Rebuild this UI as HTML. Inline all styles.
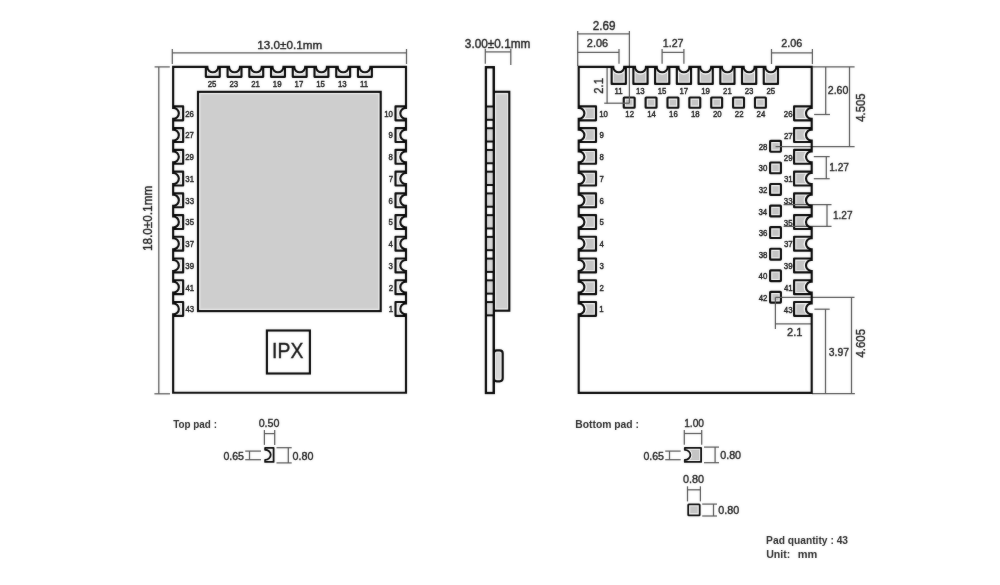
<!DOCTYPE html>
<html><head><meta charset="utf-8"><title>Module dimensions</title>
<style>
html,body{margin:0;padding:0;background:#fff;}
body{width:1000px;height:585px;overflow:hidden;}
svg{display:block;font-family:"Liberation Sans",sans-serif;}
</style></head><body>
<svg width="1000" height="585" viewBox="0 0 1000 585">
<rect width="1000" height="585" fill="#fff"/>
<defs><filter id="soft" x="0" y="0" width="1000" height="585" filterUnits="userSpaceOnUse" color-interpolation-filters="sRGB"><feGaussianBlur in="SourceGraphic" stdDeviation="0.8" result="b"/><feComposite in="SourceGraphic" in2="b" operator="arithmetic" k1="0" k2="0.74" k3="0.26" k4="0"/></filter></defs>
<g filter="url(#soft)">
<rect x="198.00" y="91.85" width="182.70" height="219.25" fill="#f6f6f6" stroke="#060606" stroke-width="2.15" rx="0"/>
<rect x="200.38" y="94.22" width="177.95" height="214.50" fill="#cecece"/>
<g transform="translate(212.80 66.85) rotate(0)"><path d="M-6.95,0 V10.00 H6.95 V0" fill="#fff" stroke="#060606" stroke-width="2.15" stroke-linejoin="round"/><path d="M-4.73,7.78 V6.03 A7.72 7.62 0 0 0 4.73,6.03 V7.78 Z" fill="#d4d4d4"/><path d="M-5.50,-2.2 V0 A5.5 5.4 0 0 0 5.50,0 V-2.2 Z" fill="#fff"/></g>
<g transform="translate(234.53 66.85) rotate(0)"><path d="M-6.95,0 V10.00 H6.95 V0" fill="#fff" stroke="#060606" stroke-width="2.15" stroke-linejoin="round"/><path d="M-4.73,7.78 V6.03 A7.72 7.62 0 0 0 4.73,6.03 V7.78 Z" fill="#d4d4d4"/><path d="M-5.50,-2.2 V0 A5.5 5.4 0 0 0 5.50,0 V-2.2 Z" fill="#fff"/></g>
<g transform="translate(256.26 66.85) rotate(0)"><path d="M-6.95,0 V10.00 H6.95 V0" fill="#fff" stroke="#060606" stroke-width="2.15" stroke-linejoin="round"/><path d="M-4.73,7.78 V6.03 A7.72 7.62 0 0 0 4.73,6.03 V7.78 Z" fill="#d4d4d4"/><path d="M-5.50,-2.2 V0 A5.5 5.4 0 0 0 5.50,0 V-2.2 Z" fill="#fff"/></g>
<g transform="translate(277.99 66.85) rotate(0)"><path d="M-6.95,0 V10.00 H6.95 V0" fill="#fff" stroke="#060606" stroke-width="2.15" stroke-linejoin="round"/><path d="M-4.73,7.78 V6.03 A7.72 7.62 0 0 0 4.73,6.03 V7.78 Z" fill="#d4d4d4"/><path d="M-5.50,-2.2 V0 A5.5 5.4 0 0 0 5.50,0 V-2.2 Z" fill="#fff"/></g>
<g transform="translate(299.72 66.85) rotate(0)"><path d="M-6.95,0 V10.00 H6.95 V0" fill="#fff" stroke="#060606" stroke-width="2.15" stroke-linejoin="round"/><path d="M-4.73,7.78 V6.03 A7.72 7.62 0 0 0 4.73,6.03 V7.78 Z" fill="#d4d4d4"/><path d="M-5.50,-2.2 V0 A5.5 5.4 0 0 0 5.50,0 V-2.2 Z" fill="#fff"/></g>
<g transform="translate(321.45 66.85) rotate(0)"><path d="M-6.95,0 V10.00 H6.95 V0" fill="#fff" stroke="#060606" stroke-width="2.15" stroke-linejoin="round"/><path d="M-4.73,7.78 V6.03 A7.72 7.62 0 0 0 4.73,6.03 V7.78 Z" fill="#d4d4d4"/><path d="M-5.50,-2.2 V0 A5.5 5.4 0 0 0 5.50,0 V-2.2 Z" fill="#fff"/></g>
<g transform="translate(343.18 66.85) rotate(0)"><path d="M-6.95,0 V10.00 H6.95 V0" fill="#fff" stroke="#060606" stroke-width="2.15" stroke-linejoin="round"/><path d="M-4.73,7.78 V6.03 A7.72 7.62 0 0 0 4.73,6.03 V7.78 Z" fill="#d4d4d4"/><path d="M-5.50,-2.2 V0 A5.5 5.4 0 0 0 5.50,0 V-2.2 Z" fill="#fff"/></g>
<g transform="translate(364.91 66.85) rotate(0)"><path d="M-6.95,0 V10.00 H6.95 V0" fill="#fff" stroke="#060606" stroke-width="2.15" stroke-linejoin="round"/><path d="M-4.73,7.78 V6.03 A7.72 7.62 0 0 0 4.73,6.03 V7.78 Z" fill="#d4d4d4"/><path d="M-5.50,-2.2 V0 A5.5 5.4 0 0 0 5.50,0 V-2.2 Z" fill="#fff"/></g>
<g transform="translate(173.15 113.35) rotate(-90)"><path d="M-6.95,0 V10.00 H6.95 V0" fill="#fff" stroke="#060606" stroke-width="2.15" stroke-linejoin="round"/><path d="M-4.73,7.78 V6.27 A7.72 7.92 0 0 0 4.73,6.27 V7.78 Z" fill="#d4d4d4"/><path d="M-5.50,-2.2 V0 A5.5 5.7 0 0 0 5.50,0 V-2.2 Z" fill="#fff"/></g>
<g transform="translate(406.00 113.35) rotate(90)"><path d="M-6.95,0 V10.50 H6.95 V0" fill="#fff" stroke="#060606" stroke-width="2.15" stroke-linejoin="round"/><path d="M-4.73,8.28 V6.27 A7.72 7.92 0 0 0 4.73,6.27 V8.28 Z" fill="#d4d4d4"/><path d="M-5.50,-2.2 V0 A5.5 5.7 0 0 0 5.50,0 V-2.2 Z" fill="#fff"/></g>
<g transform="translate(173.15 135.08) rotate(-90)"><path d="M-6.95,0 V10.00 H6.95 V0" fill="#fff" stroke="#060606" stroke-width="2.15" stroke-linejoin="round"/><path d="M-4.73,7.78 V6.27 A7.72 7.92 0 0 0 4.73,6.27 V7.78 Z" fill="#d4d4d4"/><path d="M-5.50,-2.2 V0 A5.5 5.7 0 0 0 5.50,0 V-2.2 Z" fill="#fff"/></g>
<g transform="translate(406.00 135.08) rotate(90)"><path d="M-6.95,0 V10.50 H6.95 V0" fill="#fff" stroke="#060606" stroke-width="2.15" stroke-linejoin="round"/><path d="M-4.73,8.28 V6.27 A7.72 7.92 0 0 0 4.73,6.27 V8.28 Z" fill="#d4d4d4"/><path d="M-5.50,-2.2 V0 A5.5 5.7 0 0 0 5.50,0 V-2.2 Z" fill="#fff"/></g>
<g transform="translate(173.15 156.81) rotate(-90)"><path d="M-6.95,0 V10.00 H6.95 V0" fill="#fff" stroke="#060606" stroke-width="2.15" stroke-linejoin="round"/><path d="M-4.73,7.78 V6.27 A7.72 7.92 0 0 0 4.73,6.27 V7.78 Z" fill="#d4d4d4"/><path d="M-5.50,-2.2 V0 A5.5 5.7 0 0 0 5.50,0 V-2.2 Z" fill="#fff"/></g>
<g transform="translate(406.00 156.81) rotate(90)"><path d="M-6.95,0 V10.50 H6.95 V0" fill="#fff" stroke="#060606" stroke-width="2.15" stroke-linejoin="round"/><path d="M-4.73,8.28 V6.27 A7.72 7.92 0 0 0 4.73,6.27 V8.28 Z" fill="#d4d4d4"/><path d="M-5.50,-2.2 V0 A5.5 5.7 0 0 0 5.50,0 V-2.2 Z" fill="#fff"/></g>
<g transform="translate(173.15 178.54) rotate(-90)"><path d="M-6.95,0 V10.00 H6.95 V0" fill="#fff" stroke="#060606" stroke-width="2.15" stroke-linejoin="round"/><path d="M-4.73,7.78 V6.27 A7.72 7.92 0 0 0 4.73,6.27 V7.78 Z" fill="#d4d4d4"/><path d="M-5.50,-2.2 V0 A5.5 5.7 0 0 0 5.50,0 V-2.2 Z" fill="#fff"/></g>
<g transform="translate(406.00 178.54) rotate(90)"><path d="M-6.95,0 V10.50 H6.95 V0" fill="#fff" stroke="#060606" stroke-width="2.15" stroke-linejoin="round"/><path d="M-4.73,8.28 V6.27 A7.72 7.92 0 0 0 4.73,6.27 V8.28 Z" fill="#d4d4d4"/><path d="M-5.50,-2.2 V0 A5.5 5.7 0 0 0 5.50,0 V-2.2 Z" fill="#fff"/></g>
<g transform="translate(173.15 200.27) rotate(-90)"><path d="M-6.95,0 V10.00 H6.95 V0" fill="#fff" stroke="#060606" stroke-width="2.15" stroke-linejoin="round"/><path d="M-4.73,7.78 V6.27 A7.72 7.92 0 0 0 4.73,6.27 V7.78 Z" fill="#d4d4d4"/><path d="M-5.50,-2.2 V0 A5.5 5.7 0 0 0 5.50,0 V-2.2 Z" fill="#fff"/></g>
<g transform="translate(406.00 200.27) rotate(90)"><path d="M-6.95,0 V10.50 H6.95 V0" fill="#fff" stroke="#060606" stroke-width="2.15" stroke-linejoin="round"/><path d="M-4.73,8.28 V6.27 A7.72 7.92 0 0 0 4.73,6.27 V8.28 Z" fill="#d4d4d4"/><path d="M-5.50,-2.2 V0 A5.5 5.7 0 0 0 5.50,0 V-2.2 Z" fill="#fff"/></g>
<g transform="translate(173.15 222.00) rotate(-90)"><path d="M-6.95,0 V10.00 H6.95 V0" fill="#fff" stroke="#060606" stroke-width="2.15" stroke-linejoin="round"/><path d="M-4.73,7.78 V6.27 A7.72 7.92 0 0 0 4.73,6.27 V7.78 Z" fill="#d4d4d4"/><path d="M-5.50,-2.2 V0 A5.5 5.7 0 0 0 5.50,0 V-2.2 Z" fill="#fff"/></g>
<g transform="translate(406.00 222.00) rotate(90)"><path d="M-6.95,0 V10.50 H6.95 V0" fill="#fff" stroke="#060606" stroke-width="2.15" stroke-linejoin="round"/><path d="M-4.73,8.28 V6.27 A7.72 7.92 0 0 0 4.73,6.27 V8.28 Z" fill="#d4d4d4"/><path d="M-5.50,-2.2 V0 A5.5 5.7 0 0 0 5.50,0 V-2.2 Z" fill="#fff"/></g>
<g transform="translate(173.15 243.73) rotate(-90)"><path d="M-6.95,0 V10.00 H6.95 V0" fill="#fff" stroke="#060606" stroke-width="2.15" stroke-linejoin="round"/><path d="M-4.73,7.78 V6.27 A7.72 7.92 0 0 0 4.73,6.27 V7.78 Z" fill="#d4d4d4"/><path d="M-5.50,-2.2 V0 A5.5 5.7 0 0 0 5.50,0 V-2.2 Z" fill="#fff"/></g>
<g transform="translate(406.00 243.73) rotate(90)"><path d="M-6.95,0 V10.50 H6.95 V0" fill="#fff" stroke="#060606" stroke-width="2.15" stroke-linejoin="round"/><path d="M-4.73,8.28 V6.27 A7.72 7.92 0 0 0 4.73,6.27 V8.28 Z" fill="#d4d4d4"/><path d="M-5.50,-2.2 V0 A5.5 5.7 0 0 0 5.50,0 V-2.2 Z" fill="#fff"/></g>
<g transform="translate(173.15 265.46) rotate(-90)"><path d="M-6.95,0 V10.00 H6.95 V0" fill="#fff" stroke="#060606" stroke-width="2.15" stroke-linejoin="round"/><path d="M-4.73,7.78 V6.27 A7.72 7.92 0 0 0 4.73,6.27 V7.78 Z" fill="#d4d4d4"/><path d="M-5.50,-2.2 V0 A5.5 5.7 0 0 0 5.50,0 V-2.2 Z" fill="#fff"/></g>
<g transform="translate(406.00 265.46) rotate(90)"><path d="M-6.95,0 V10.50 H6.95 V0" fill="#fff" stroke="#060606" stroke-width="2.15" stroke-linejoin="round"/><path d="M-4.73,8.28 V6.27 A7.72 7.92 0 0 0 4.73,6.27 V8.28 Z" fill="#d4d4d4"/><path d="M-5.50,-2.2 V0 A5.5 5.7 0 0 0 5.50,0 V-2.2 Z" fill="#fff"/></g>
<g transform="translate(173.15 287.19) rotate(-90)"><path d="M-6.95,0 V10.00 H6.95 V0" fill="#fff" stroke="#060606" stroke-width="2.15" stroke-linejoin="round"/><path d="M-4.73,7.78 V6.27 A7.72 7.92 0 0 0 4.73,6.27 V7.78 Z" fill="#d4d4d4"/><path d="M-5.50,-2.2 V0 A5.5 5.7 0 0 0 5.50,0 V-2.2 Z" fill="#fff"/></g>
<g transform="translate(406.00 287.19) rotate(90)"><path d="M-6.95,0 V10.50 H6.95 V0" fill="#fff" stroke="#060606" stroke-width="2.15" stroke-linejoin="round"/><path d="M-4.73,8.28 V6.27 A7.72 7.92 0 0 0 4.73,6.27 V8.28 Z" fill="#d4d4d4"/><path d="M-5.50,-2.2 V0 A5.5 5.7 0 0 0 5.50,0 V-2.2 Z" fill="#fff"/></g>
<g transform="translate(173.15 308.92) rotate(-90)"><path d="M-6.95,0 V10.00 H6.95 V0" fill="#fff" stroke="#060606" stroke-width="2.15" stroke-linejoin="round"/><path d="M-4.73,7.78 V6.27 A7.72 7.92 0 0 0 4.73,6.27 V7.78 Z" fill="#d4d4d4"/><path d="M-5.50,-2.2 V0 A5.5 5.7 0 0 0 5.50,0 V-2.2 Z" fill="#fff"/></g>
<g transform="translate(406.00 308.92) rotate(90)"><path d="M-6.95,0 V10.50 H6.95 V0" fill="#fff" stroke="#060606" stroke-width="2.15" stroke-linejoin="round"/><path d="M-4.73,8.28 V6.27 A7.72 7.92 0 0 0 4.73,6.27 V8.28 Z" fill="#d4d4d4"/><path d="M-5.50,-2.2 V0 A5.5 5.7 0 0 0 5.50,0 V-2.2 Z" fill="#fff"/></g>
<text transform="translate(207.72 87.00) scale(0.9000 1)" font-size="8.7" fill="#161616" font-weight="normal" stroke="#161616" stroke-width="0.42">25</text>
<text transform="translate(229.45 87.00) scale(0.9000 1)" font-size="8.7" fill="#161616" font-weight="normal" stroke="#161616" stroke-width="0.42">23</text>
<text transform="translate(251.20 87.00) scale(0.9000 1)" font-size="8.7" fill="#161616" font-weight="normal" stroke="#161616" stroke-width="0.42">21</text>
<text transform="translate(272.83 87.00) scale(0.9000 1)" font-size="8.7" fill="#161616" font-weight="normal" stroke="#161616" stroke-width="0.42">19</text>
<text transform="translate(294.58 87.00) scale(0.9000 1)" font-size="8.7" fill="#161616" font-weight="normal" stroke="#161616" stroke-width="0.42">17</text>
<text transform="translate(316.27 87.00) scale(0.9000 1)" font-size="8.7" fill="#161616" font-weight="normal" stroke="#161616" stroke-width="0.42">15</text>
<text transform="translate(338.01 87.00) scale(0.9000 1)" font-size="8.7" fill="#161616" font-weight="normal" stroke="#161616" stroke-width="0.42">13</text>
<text transform="translate(360.04 87.00) scale(0.9000 1)" font-size="8.7" fill="#161616" font-weight="normal" stroke="#161616" stroke-width="0.42">11</text>
<text transform="translate(185.21 116.75) scale(0.9000 1)" font-size="8.7" fill="#161616" font-weight="normal" stroke="#161616" stroke-width="0.42">26</text>
<text transform="translate(185.21 138.48) scale(0.9000 1)" font-size="8.7" fill="#161616" font-weight="normal" stroke="#161616" stroke-width="0.42">27</text>
<text transform="translate(185.21 160.21) scale(0.9000 1)" font-size="8.7" fill="#161616" font-weight="normal" stroke="#161616" stroke-width="0.42">29</text>
<text transform="translate(185.31 181.94) scale(0.9000 1)" font-size="8.7" fill="#161616" font-weight="normal" stroke="#161616" stroke-width="0.42">31</text>
<text transform="translate(185.31 203.67) scale(0.9000 1)" font-size="8.7" fill="#161616" font-weight="normal" stroke="#161616" stroke-width="0.42">33</text>
<text transform="translate(185.31 225.40) scale(0.9000 1)" font-size="8.7" fill="#161616" font-weight="normal" stroke="#161616" stroke-width="0.42">35</text>
<text transform="translate(185.31 247.13) scale(0.9000 1)" font-size="8.7" fill="#161616" font-weight="normal" stroke="#161616" stroke-width="0.42">37</text>
<text transform="translate(185.31 268.86) scale(0.9000 1)" font-size="8.7" fill="#161616" font-weight="normal" stroke="#161616" stroke-width="0.42">39</text>
<text transform="translate(185.42 290.59) scale(0.9000 1)" font-size="8.7" fill="#161616" font-weight="normal" stroke="#161616" stroke-width="0.42">41</text>
<text transform="translate(185.42 312.32) scale(0.9000 1)" font-size="8.7" fill="#161616" font-weight="normal" stroke="#161616" stroke-width="0.42">43</text>
<text transform="translate(384.20 116.75) scale(0.9000 1)" font-size="8.7" fill="#161616" font-weight="normal" stroke="#161616" stroke-width="0.42">10</text>
<text transform="translate(388.61 138.48) scale(0.9000 1)" font-size="8.7" fill="#161616" font-weight="normal" stroke="#161616" stroke-width="0.42">9</text>
<text transform="translate(388.59 160.21) scale(0.9000 1)" font-size="8.7" fill="#161616" font-weight="normal" stroke="#161616" stroke-width="0.42">8</text>
<text transform="translate(388.65 181.94) scale(0.9000 1)" font-size="8.7" fill="#161616" font-weight="normal" stroke="#161616" stroke-width="0.42">7</text>
<text transform="translate(388.59 203.67) scale(0.9000 1)" font-size="8.7" fill="#161616" font-weight="normal" stroke="#161616" stroke-width="0.42">6</text>
<text transform="translate(388.57 225.40) scale(0.9000 1)" font-size="8.7" fill="#161616" font-weight="normal" stroke="#161616" stroke-width="0.42">5</text>
<text transform="translate(388.47 247.13) scale(0.9000 1)" font-size="8.7" fill="#161616" font-weight="normal" stroke="#161616" stroke-width="0.42">4</text>
<text transform="translate(388.59 268.86) scale(0.9000 1)" font-size="8.7" fill="#161616" font-weight="normal" stroke="#161616" stroke-width="0.42">3</text>
<text transform="translate(388.65 290.59) scale(0.9000 1)" font-size="8.7" fill="#161616" font-weight="normal" stroke="#161616" stroke-width="0.42">2</text>
<text transform="translate(388.63 312.32) scale(0.9000 1)" font-size="8.7" fill="#161616" font-weight="normal" stroke="#161616" stroke-width="0.42">1</text>
<rect x="266.90" y="330.50" width="43.00" height="43.00" fill="none" stroke="#060606" stroke-width="2.15" rx="0"/>
<text transform="translate(272.11 357.80) scale(0.9135 1)" font-size="21.2" fill="#141414" font-weight="normal" stroke="#141414" stroke-width="0.4">IPX</text>
<line x1="172.30" y1="52.80" x2="406.50" y2="52.80" stroke="#555555" stroke-width="1.25"/>
<line x1="172.30" y1="49.00" x2="172.30" y2="64.00" stroke="#555555" stroke-width="1.25"/>
<line x1="406.50" y1="49.00" x2="406.50" y2="64.00" stroke="#555555" stroke-width="1.25"/>
<text transform="translate(257.32 49.30) scale(0.9900 1)" font-size="11.8" fill="#1a1a1a" font-weight="normal" stroke="#1a1a1a" stroke-width="0.38">13.0±0.1mm</text>
<line x1="158.80" y1="66.90" x2="158.80" y2="393.80" stroke="#555555" stroke-width="1.25"/>
<line x1="154.60" y1="66.90" x2="169.80" y2="66.90" stroke="#555555" stroke-width="1.25"/>
<line x1="154.40" y1="393.80" x2="170.00" y2="393.80" stroke="#555555" stroke-width="1.25"/>
<text transform="translate(152.00 251.08) rotate(-90) scale(0.9910 1)" font-size="11.9" fill="#1a1a1a" font-weight="normal" stroke="#1a1a1a" stroke-width="0.38">18.0±0.1mm</text>
<rect x="493.80" y="91.80" width="15.50" height="218.90" fill="#f4f4f4" stroke="#060606" stroke-width="2.15" rx="0"/>
<rect x="496.20" y="94.3" width="10.90" height="213.90" fill="#cecece"/>
<rect x="493.80" y="350.30" width="8.90" height="31.00" fill="#f4f4f4" stroke="#060606" stroke-width="2.15" rx="3"/>
<rect x="496.00" y="352.8" width="4.50" height="26" fill="#d6d6d6" rx="1"/>
<rect x="485.95" y="67.20" width="7.85" height="325.80" fill="#fff" stroke="#060606" stroke-width="2.15" rx="0"/>
<rect x="485.95" y="106.50" width="7.85" height="13.30" fill="#d9d9d9"/>
<line x1="485.95" y1="106.50" x2="493.80" y2="106.50" stroke="#060606" stroke-width="2.0"/>
<line x1="485.95" y1="119.80" x2="493.80" y2="119.80" stroke="#060606" stroke-width="2.0"/>
<rect x="485.95" y="128.23" width="7.85" height="13.30" fill="#d9d9d9"/>
<line x1="485.95" y1="128.23" x2="493.80" y2="128.23" stroke="#060606" stroke-width="2.0"/>
<line x1="485.95" y1="141.53" x2="493.80" y2="141.53" stroke="#060606" stroke-width="2.0"/>
<rect x="485.95" y="149.96" width="7.85" height="13.30" fill="#d9d9d9"/>
<line x1="485.95" y1="149.96" x2="493.80" y2="149.96" stroke="#060606" stroke-width="2.0"/>
<line x1="485.95" y1="163.26" x2="493.80" y2="163.26" stroke="#060606" stroke-width="2.0"/>
<rect x="485.95" y="171.69" width="7.85" height="13.30" fill="#d9d9d9"/>
<line x1="485.95" y1="171.69" x2="493.80" y2="171.69" stroke="#060606" stroke-width="2.0"/>
<line x1="485.95" y1="184.99" x2="493.80" y2="184.99" stroke="#060606" stroke-width="2.0"/>
<rect x="485.95" y="193.42" width="7.85" height="13.30" fill="#d9d9d9"/>
<line x1="485.95" y1="193.42" x2="493.80" y2="193.42" stroke="#060606" stroke-width="2.0"/>
<line x1="485.95" y1="206.72" x2="493.80" y2="206.72" stroke="#060606" stroke-width="2.0"/>
<rect x="485.95" y="215.15" width="7.85" height="13.30" fill="#d9d9d9"/>
<line x1="485.95" y1="215.15" x2="493.80" y2="215.15" stroke="#060606" stroke-width="2.0"/>
<line x1="485.95" y1="228.45" x2="493.80" y2="228.45" stroke="#060606" stroke-width="2.0"/>
<rect x="485.95" y="236.88" width="7.85" height="13.30" fill="#d9d9d9"/>
<line x1="485.95" y1="236.88" x2="493.80" y2="236.88" stroke="#060606" stroke-width="2.0"/>
<line x1="485.95" y1="250.18" x2="493.80" y2="250.18" stroke="#060606" stroke-width="2.0"/>
<rect x="485.95" y="258.61" width="7.85" height="13.30" fill="#d9d9d9"/>
<line x1="485.95" y1="258.61" x2="493.80" y2="258.61" stroke="#060606" stroke-width="2.0"/>
<line x1="485.95" y1="271.91" x2="493.80" y2="271.91" stroke="#060606" stroke-width="2.0"/>
<rect x="485.95" y="280.34" width="7.85" height="13.30" fill="#d9d9d9"/>
<line x1="485.95" y1="280.34" x2="493.80" y2="280.34" stroke="#060606" stroke-width="2.0"/>
<line x1="485.95" y1="293.64" x2="493.80" y2="293.64" stroke="#060606" stroke-width="2.0"/>
<rect x="485.95" y="302.07" width="7.85" height="13.30" fill="#d9d9d9"/>
<line x1="485.95" y1="302.07" x2="493.80" y2="302.07" stroke="#060606" stroke-width="2.0"/>
<line x1="485.95" y1="315.37" x2="493.80" y2="315.37" stroke="#060606" stroke-width="2.0"/>
<rect x="485.95" y="67.20" width="7.85" height="325.80" fill="none" stroke="#060606" stroke-width="2.15" rx="0"/>
<line x1="485.30" y1="51.90" x2="510.80" y2="51.90" stroke="#555555" stroke-width="1.25"/>
<line x1="485.30" y1="48.80" x2="485.30" y2="63.70" stroke="#555555" stroke-width="1.25"/>
<line x1="510.80" y1="48.80" x2="510.80" y2="65.00" stroke="#555555" stroke-width="1.25"/>
<text transform="translate(464.86 47.60) scale(0.9919 1)" font-size="11.9" fill="#1a1a1a" font-weight="normal" stroke="#1a1a1a" stroke-width="0.38">3.00±0.1mm</text>
<g transform="translate(618.75 66.90) rotate(0)"><path d="M-7.10,0 V17.00 H7.10 V0" fill="#fff" stroke="#060606" stroke-width="2.15" stroke-linejoin="round"/><path d="M-4.88,14.78 V5.91 A7.72 7.62 0 0 0 4.88,5.91 V14.78 Z" fill="#c4c4c4"/><path d="M-5.50,-2.2 V0 A5.5 5.4 0 0 0 5.50,0 V-2.2 Z" fill="#fff"/></g>
<g transform="translate(640.48 66.90) rotate(0)"><path d="M-7.10,0 V17.00 H7.10 V0" fill="#fff" stroke="#060606" stroke-width="2.15" stroke-linejoin="round"/><path d="M-4.88,14.78 V5.91 A7.72 7.62 0 0 0 4.88,5.91 V14.78 Z" fill="#c4c4c4"/><path d="M-5.50,-2.2 V0 A5.5 5.4 0 0 0 5.50,0 V-2.2 Z" fill="#fff"/></g>
<g transform="translate(662.21 66.90) rotate(0)"><path d="M-7.10,0 V17.00 H7.10 V0" fill="#fff" stroke="#060606" stroke-width="2.15" stroke-linejoin="round"/><path d="M-4.88,14.78 V5.91 A7.72 7.62 0 0 0 4.88,5.91 V14.78 Z" fill="#c4c4c4"/><path d="M-5.50,-2.2 V0 A5.5 5.4 0 0 0 5.50,0 V-2.2 Z" fill="#fff"/></g>
<g transform="translate(683.94 66.90) rotate(0)"><path d="M-7.10,0 V17.00 H7.10 V0" fill="#fff" stroke="#060606" stroke-width="2.15" stroke-linejoin="round"/><path d="M-4.88,14.78 V5.91 A7.72 7.62 0 0 0 4.88,5.91 V14.78 Z" fill="#c4c4c4"/><path d="M-5.50,-2.2 V0 A5.5 5.4 0 0 0 5.50,0 V-2.2 Z" fill="#fff"/></g>
<g transform="translate(705.67 66.90) rotate(0)"><path d="M-7.10,0 V17.00 H7.10 V0" fill="#fff" stroke="#060606" stroke-width="2.15" stroke-linejoin="round"/><path d="M-4.88,14.78 V5.91 A7.72 7.62 0 0 0 4.88,5.91 V14.78 Z" fill="#c4c4c4"/><path d="M-5.50,-2.2 V0 A5.5 5.4 0 0 0 5.50,0 V-2.2 Z" fill="#fff"/></g>
<g transform="translate(727.40 66.90) rotate(0)"><path d="M-7.10,0 V17.00 H7.10 V0" fill="#fff" stroke="#060606" stroke-width="2.15" stroke-linejoin="round"/><path d="M-4.88,14.78 V5.91 A7.72 7.62 0 0 0 4.88,5.91 V14.78 Z" fill="#c4c4c4"/><path d="M-5.50,-2.2 V0 A5.5 5.4 0 0 0 5.50,0 V-2.2 Z" fill="#fff"/></g>
<g transform="translate(749.13 66.90) rotate(0)"><path d="M-7.10,0 V17.00 H7.10 V0" fill="#fff" stroke="#060606" stroke-width="2.15" stroke-linejoin="round"/><path d="M-4.88,14.78 V5.91 A7.72 7.62 0 0 0 4.88,5.91 V14.78 Z" fill="#c4c4c4"/><path d="M-5.50,-2.2 V0 A5.5 5.4 0 0 0 5.50,0 V-2.2 Z" fill="#fff"/></g>
<g transform="translate(770.86 66.90) rotate(0)"><path d="M-7.10,0 V17.00 H7.10 V0" fill="#fff" stroke="#060606" stroke-width="2.15" stroke-linejoin="round"/><path d="M-4.88,14.78 V5.91 A7.72 7.62 0 0 0 4.88,5.91 V14.78 Z" fill="#c4c4c4"/><path d="M-5.50,-2.2 V0 A5.5 5.4 0 0 0 5.50,0 V-2.2 Z" fill="#fff"/></g>
<g transform="translate(578.70 113.35) rotate(-90)"><path d="M-6.95,0 V17.30 H6.95 V0" fill="#fff" stroke="#060606" stroke-width="2.15" stroke-linejoin="round"/><path d="M-4.73,15.08 V6.27 A7.72 7.92 0 0 0 4.73,6.27 V15.08 Z" fill="#c4c4c4"/><path d="M-5.50,-2.2 V0 A5.5 5.7 0 0 0 5.50,0 V-2.2 Z" fill="#fff"/></g>
<g transform="translate(811.70 113.35) rotate(90)"><path d="M-6.95,0 V17.60 H6.95 V0" fill="#fff" stroke="#060606" stroke-width="2.15" stroke-linejoin="round"/><path d="M-4.73,15.38 V6.27 A7.72 7.92 0 0 0 4.73,6.27 V15.38 Z" fill="#c4c4c4"/><path d="M-5.50,-2.2 V0 A5.5 5.7 0 0 0 5.50,0 V-2.2 Z" fill="#fff"/></g>
<g transform="translate(578.70 135.08) rotate(-90)"><path d="M-6.95,0 V17.30 H6.95 V0" fill="#fff" stroke="#060606" stroke-width="2.15" stroke-linejoin="round"/><path d="M-4.73,15.08 V6.27 A7.72 7.92 0 0 0 4.73,6.27 V15.08 Z" fill="#c4c4c4"/><path d="M-5.50,-2.2 V0 A5.5 5.7 0 0 0 5.50,0 V-2.2 Z" fill="#fff"/></g>
<g transform="translate(811.70 135.08) rotate(90)"><path d="M-6.95,0 V17.60 H6.95 V0" fill="#fff" stroke="#060606" stroke-width="2.15" stroke-linejoin="round"/><path d="M-4.73,15.38 V6.27 A7.72 7.92 0 0 0 4.73,6.27 V15.38 Z" fill="#c4c4c4"/><path d="M-5.50,-2.2 V0 A5.5 5.7 0 0 0 5.50,0 V-2.2 Z" fill="#fff"/></g>
<g transform="translate(578.70 156.81) rotate(-90)"><path d="M-6.95,0 V17.30 H6.95 V0" fill="#fff" stroke="#060606" stroke-width="2.15" stroke-linejoin="round"/><path d="M-4.73,15.08 V6.27 A7.72 7.92 0 0 0 4.73,6.27 V15.08 Z" fill="#c4c4c4"/><path d="M-5.50,-2.2 V0 A5.5 5.7 0 0 0 5.50,0 V-2.2 Z" fill="#fff"/></g>
<g transform="translate(811.70 156.81) rotate(90)"><path d="M-6.95,0 V17.60 H6.95 V0" fill="#fff" stroke="#060606" stroke-width="2.15" stroke-linejoin="round"/><path d="M-4.73,15.38 V6.27 A7.72 7.92 0 0 0 4.73,6.27 V15.38 Z" fill="#c4c4c4"/><path d="M-5.50,-2.2 V0 A5.5 5.7 0 0 0 5.50,0 V-2.2 Z" fill="#fff"/></g>
<g transform="translate(578.70 178.54) rotate(-90)"><path d="M-6.95,0 V17.30 H6.95 V0" fill="#fff" stroke="#060606" stroke-width="2.15" stroke-linejoin="round"/><path d="M-4.73,15.08 V6.27 A7.72 7.92 0 0 0 4.73,6.27 V15.08 Z" fill="#c4c4c4"/><path d="M-5.50,-2.2 V0 A5.5 5.7 0 0 0 5.50,0 V-2.2 Z" fill="#fff"/></g>
<g transform="translate(811.70 178.54) rotate(90)"><path d="M-6.95,0 V17.60 H6.95 V0" fill="#fff" stroke="#060606" stroke-width="2.15" stroke-linejoin="round"/><path d="M-4.73,15.38 V6.27 A7.72 7.92 0 0 0 4.73,6.27 V15.38 Z" fill="#c4c4c4"/><path d="M-5.50,-2.2 V0 A5.5 5.7 0 0 0 5.50,0 V-2.2 Z" fill="#fff"/></g>
<g transform="translate(578.70 200.27) rotate(-90)"><path d="M-6.95,0 V17.30 H6.95 V0" fill="#fff" stroke="#060606" stroke-width="2.15" stroke-linejoin="round"/><path d="M-4.73,15.08 V6.27 A7.72 7.92 0 0 0 4.73,6.27 V15.08 Z" fill="#c4c4c4"/><path d="M-5.50,-2.2 V0 A5.5 5.7 0 0 0 5.50,0 V-2.2 Z" fill="#fff"/></g>
<g transform="translate(811.70 200.27) rotate(90)"><path d="M-6.95,0 V17.60 H6.95 V0" fill="#fff" stroke="#060606" stroke-width="2.15" stroke-linejoin="round"/><path d="M-4.73,15.38 V6.27 A7.72 7.92 0 0 0 4.73,6.27 V15.38 Z" fill="#c4c4c4"/><path d="M-5.50,-2.2 V0 A5.5 5.7 0 0 0 5.50,0 V-2.2 Z" fill="#fff"/></g>
<g transform="translate(578.70 222.00) rotate(-90)"><path d="M-6.95,0 V17.30 H6.95 V0" fill="#fff" stroke="#060606" stroke-width="2.15" stroke-linejoin="round"/><path d="M-4.73,15.08 V6.27 A7.72 7.92 0 0 0 4.73,6.27 V15.08 Z" fill="#c4c4c4"/><path d="M-5.50,-2.2 V0 A5.5 5.7 0 0 0 5.50,0 V-2.2 Z" fill="#fff"/></g>
<g transform="translate(811.70 222.00) rotate(90)"><path d="M-6.95,0 V17.60 H6.95 V0" fill="#fff" stroke="#060606" stroke-width="2.15" stroke-linejoin="round"/><path d="M-4.73,15.38 V6.27 A7.72 7.92 0 0 0 4.73,6.27 V15.38 Z" fill="#c4c4c4"/><path d="M-5.50,-2.2 V0 A5.5 5.7 0 0 0 5.50,0 V-2.2 Z" fill="#fff"/></g>
<g transform="translate(578.70 243.73) rotate(-90)"><path d="M-6.95,0 V17.30 H6.95 V0" fill="#fff" stroke="#060606" stroke-width="2.15" stroke-linejoin="round"/><path d="M-4.73,15.08 V6.27 A7.72 7.92 0 0 0 4.73,6.27 V15.08 Z" fill="#c4c4c4"/><path d="M-5.50,-2.2 V0 A5.5 5.7 0 0 0 5.50,0 V-2.2 Z" fill="#fff"/></g>
<g transform="translate(811.70 243.73) rotate(90)"><path d="M-6.95,0 V17.60 H6.95 V0" fill="#fff" stroke="#060606" stroke-width="2.15" stroke-linejoin="round"/><path d="M-4.73,15.38 V6.27 A7.72 7.92 0 0 0 4.73,6.27 V15.38 Z" fill="#c4c4c4"/><path d="M-5.50,-2.2 V0 A5.5 5.7 0 0 0 5.50,0 V-2.2 Z" fill="#fff"/></g>
<g transform="translate(578.70 265.46) rotate(-90)"><path d="M-6.95,0 V17.30 H6.95 V0" fill="#fff" stroke="#060606" stroke-width="2.15" stroke-linejoin="round"/><path d="M-4.73,15.08 V6.27 A7.72 7.92 0 0 0 4.73,6.27 V15.08 Z" fill="#c4c4c4"/><path d="M-5.50,-2.2 V0 A5.5 5.7 0 0 0 5.50,0 V-2.2 Z" fill="#fff"/></g>
<g transform="translate(811.70 265.46) rotate(90)"><path d="M-6.95,0 V17.60 H6.95 V0" fill="#fff" stroke="#060606" stroke-width="2.15" stroke-linejoin="round"/><path d="M-4.73,15.38 V6.27 A7.72 7.92 0 0 0 4.73,6.27 V15.38 Z" fill="#c4c4c4"/><path d="M-5.50,-2.2 V0 A5.5 5.7 0 0 0 5.50,0 V-2.2 Z" fill="#fff"/></g>
<g transform="translate(578.70 287.19) rotate(-90)"><path d="M-6.95,0 V17.30 H6.95 V0" fill="#fff" stroke="#060606" stroke-width="2.15" stroke-linejoin="round"/><path d="M-4.73,15.08 V6.27 A7.72 7.92 0 0 0 4.73,6.27 V15.08 Z" fill="#c4c4c4"/><path d="M-5.50,-2.2 V0 A5.5 5.7 0 0 0 5.50,0 V-2.2 Z" fill="#fff"/></g>
<g transform="translate(811.70 287.19) rotate(90)"><path d="M-6.95,0 V17.60 H6.95 V0" fill="#fff" stroke="#060606" stroke-width="2.15" stroke-linejoin="round"/><path d="M-4.73,15.38 V6.27 A7.72 7.92 0 0 0 4.73,6.27 V15.38 Z" fill="#c4c4c4"/><path d="M-5.50,-2.2 V0 A5.5 5.7 0 0 0 5.50,0 V-2.2 Z" fill="#fff"/></g>
<g transform="translate(578.70 308.92) rotate(-90)"><path d="M-6.95,0 V17.30 H6.95 V0" fill="#fff" stroke="#060606" stroke-width="2.15" stroke-linejoin="round"/><path d="M-4.73,15.08 V6.27 A7.72 7.92 0 0 0 4.73,6.27 V15.08 Z" fill="#c4c4c4"/><path d="M-5.50,-2.2 V0 A5.5 5.7 0 0 0 5.50,0 V-2.2 Z" fill="#fff"/></g>
<g transform="translate(811.70 308.92) rotate(90)"><path d="M-6.95,0 V17.60 H6.95 V0" fill="#fff" stroke="#060606" stroke-width="2.15" stroke-linejoin="round"/><path d="M-4.73,15.38 V6.27 A7.72 7.92 0 0 0 4.73,6.27 V15.38 Z" fill="#c4c4c4"/><path d="M-5.50,-2.2 V0 A5.5 5.7 0 0 0 5.50,0 V-2.2 Z" fill="#fff"/></g>
<rect x="623.75" y="97.45" width="10.90" height="10.30" fill="#fff" stroke="#060606" stroke-width="2.15" stroke-linejoin="round" rx="0.6"/>
<rect x="625.98" y="99.67" width="6.45" height="5.85" fill="#c4c4c4"/>
<rect x="645.62" y="97.45" width="10.90" height="10.30" fill="#fff" stroke="#060606" stroke-width="2.15" stroke-linejoin="round" rx="0.6"/>
<rect x="647.85" y="99.67" width="6.45" height="5.85" fill="#c4c4c4"/>
<rect x="667.49" y="97.45" width="10.90" height="10.30" fill="#fff" stroke="#060606" stroke-width="2.15" stroke-linejoin="round" rx="0.6"/>
<rect x="669.72" y="99.67" width="6.45" height="5.85" fill="#c4c4c4"/>
<rect x="689.36" y="97.45" width="10.90" height="10.30" fill="#fff" stroke="#060606" stroke-width="2.15" stroke-linejoin="round" rx="0.6"/>
<rect x="691.59" y="99.67" width="6.45" height="5.85" fill="#c4c4c4"/>
<rect x="711.23" y="97.45" width="10.90" height="10.30" fill="#fff" stroke="#060606" stroke-width="2.15" stroke-linejoin="round" rx="0.6"/>
<rect x="713.46" y="99.67" width="6.45" height="5.85" fill="#c4c4c4"/>
<rect x="733.10" y="97.45" width="10.90" height="10.30" fill="#fff" stroke="#060606" stroke-width="2.15" stroke-linejoin="round" rx="0.6"/>
<rect x="735.33" y="99.67" width="6.45" height="5.85" fill="#c4c4c4"/>
<rect x="754.97" y="97.45" width="10.90" height="10.30" fill="#fff" stroke="#060606" stroke-width="2.15" stroke-linejoin="round" rx="0.6"/>
<rect x="757.20" y="99.67" width="6.45" height="5.85" fill="#c4c4c4"/>
<rect x="770.10" y="140.90" width="10.80" height="10.80" fill="#fff" stroke="#060606" stroke-width="2.15" stroke-linejoin="round" rx="0.6"/>
<rect x="772.33" y="143.12" width="6.35" height="6.35" fill="#c4c4c4"/>
<rect x="770.10" y="162.47" width="10.80" height="10.80" fill="#fff" stroke="#060606" stroke-width="2.15" stroke-linejoin="round" rx="0.6"/>
<rect x="772.33" y="164.69" width="6.35" height="6.35" fill="#c4c4c4"/>
<rect x="770.10" y="184.04" width="10.80" height="10.80" fill="#fff" stroke="#060606" stroke-width="2.15" stroke-linejoin="round" rx="0.6"/>
<rect x="772.33" y="186.27" width="6.35" height="6.35" fill="#c4c4c4"/>
<rect x="770.10" y="205.61" width="10.80" height="10.80" fill="#fff" stroke="#060606" stroke-width="2.15" stroke-linejoin="round" rx="0.6"/>
<rect x="772.33" y="207.84" width="6.35" height="6.35" fill="#c4c4c4"/>
<rect x="770.10" y="227.18" width="10.80" height="10.80" fill="#fff" stroke="#060606" stroke-width="2.15" stroke-linejoin="round" rx="0.6"/>
<rect x="772.33" y="229.41" width="6.35" height="6.35" fill="#c4c4c4"/>
<rect x="770.10" y="248.75" width="10.80" height="10.80" fill="#fff" stroke="#060606" stroke-width="2.15" stroke-linejoin="round" rx="0.6"/>
<rect x="772.33" y="250.97" width="6.35" height="6.35" fill="#c4c4c4"/>
<rect x="770.10" y="270.32" width="10.80" height="10.80" fill="#fff" stroke="#060606" stroke-width="2.15" stroke-linejoin="round" rx="0.6"/>
<rect x="772.33" y="272.55" width="6.35" height="6.35" fill="#c4c4c4"/>
<rect x="770.10" y="291.89" width="10.80" height="10.80" fill="#fff" stroke="#060606" stroke-width="2.15" stroke-linejoin="round" rx="0.6"/>
<rect x="772.33" y="294.12" width="6.35" height="6.35" fill="#c4c4c4"/>
<text transform="translate(614.58 94.00) scale(0.9000 1)" font-size="8.7" fill="#161616" font-weight="normal" stroke="#161616" stroke-width="0.42">11</text>
<text transform="translate(636.01 94.00) scale(0.9000 1)" font-size="8.7" fill="#161616" font-weight="normal" stroke="#161616" stroke-width="0.42">13</text>
<text transform="translate(657.73 94.00) scale(0.9000 1)" font-size="8.7" fill="#161616" font-weight="normal" stroke="#161616" stroke-width="0.42">15</text>
<text transform="translate(679.50 94.00) scale(0.9000 1)" font-size="8.7" fill="#161616" font-weight="normal" stroke="#161616" stroke-width="0.42">17</text>
<text transform="translate(701.21 94.00) scale(0.9000 1)" font-size="8.7" fill="#161616" font-weight="normal" stroke="#161616" stroke-width="0.42">19</text>
<text transform="translate(723.04 94.00) scale(0.9000 1)" font-size="8.7" fill="#161616" font-weight="normal" stroke="#161616" stroke-width="0.42">21</text>
<text transform="translate(744.75 94.00) scale(0.9000 1)" font-size="8.7" fill="#161616" font-weight="normal" stroke="#161616" stroke-width="0.42">23</text>
<text transform="translate(766.48 94.00) scale(0.9000 1)" font-size="8.7" fill="#161616" font-weight="normal" stroke="#161616" stroke-width="0.42">25</text>
<text transform="translate(625.36 117.00) scale(0.9000 1)" font-size="8.7" fill="#161616" font-weight="normal" stroke="#161616" stroke-width="0.42">12</text>
<text transform="translate(647.14 117.00) scale(0.9000 1)" font-size="8.7" fill="#161616" font-weight="normal" stroke="#161616" stroke-width="0.42">14</text>
<text transform="translate(669.07 117.00) scale(0.9000 1)" font-size="8.7" fill="#161616" font-weight="normal" stroke="#161616" stroke-width="0.42">16</text>
<text transform="translate(690.94 117.00) scale(0.9000 1)" font-size="8.7" fill="#161616" font-weight="normal" stroke="#161616" stroke-width="0.42">18</text>
<text transform="translate(712.89 117.00) scale(0.9000 1)" font-size="8.7" fill="#161616" font-weight="normal" stroke="#161616" stroke-width="0.42">20</text>
<text transform="translate(734.80 117.00) scale(0.9000 1)" font-size="8.7" fill="#161616" font-weight="normal" stroke="#161616" stroke-width="0.42">22</text>
<text transform="translate(756.59 117.00) scale(0.9000 1)" font-size="8.7" fill="#161616" font-weight="normal" stroke="#161616" stroke-width="0.42">24</text>
<text transform="translate(599.21 116.75) scale(0.9000 1)" font-size="8.7" fill="#161616" font-weight="normal" stroke="#161616" stroke-width="0.42">10</text>
<text transform="translate(599.43 138.48) scale(0.9000 1)" font-size="8.7" fill="#161616" font-weight="normal" stroke="#161616" stroke-width="0.42">9</text>
<text transform="translate(599.47 160.21) scale(0.9000 1)" font-size="8.7" fill="#161616" font-weight="normal" stroke="#161616" stroke-width="0.42">8</text>
<text transform="translate(599.39 181.94) scale(0.9000 1)" font-size="8.7" fill="#161616" font-weight="normal" stroke="#161616" stroke-width="0.42">7</text>
<text transform="translate(599.41 203.67) scale(0.9000 1)" font-size="8.7" fill="#161616" font-weight="normal" stroke="#161616" stroke-width="0.42">6</text>
<text transform="translate(599.49 225.40) scale(0.9000 1)" font-size="8.7" fill="#161616" font-weight="normal" stroke="#161616" stroke-width="0.42">5</text>
<text transform="translate(599.62 247.13) scale(0.9000 1)" font-size="8.7" fill="#161616" font-weight="normal" stroke="#161616" stroke-width="0.42">4</text>
<text transform="translate(599.51 268.86) scale(0.9000 1)" font-size="8.7" fill="#161616" font-weight="normal" stroke="#161616" stroke-width="0.42">3</text>
<text transform="translate(599.41 290.59) scale(0.9000 1)" font-size="8.7" fill="#161616" font-weight="normal" stroke="#161616" stroke-width="0.42">2</text>
<text transform="translate(599.21 312.32) scale(0.9000 1)" font-size="8.7" fill="#161616" font-weight="normal" stroke="#161616" stroke-width="0.42">1</text>
<text transform="translate(783.84 117.05) scale(0.9000 1)" font-size="8.7" fill="#161616" font-weight="normal" stroke="#161616" stroke-width="0.42">26</text>
<text transform="translate(783.90 138.78) scale(0.9000 1)" font-size="8.7" fill="#161616" font-weight="normal" stroke="#161616" stroke-width="0.42">27</text>
<text transform="translate(783.86 160.51) scale(0.9000 1)" font-size="8.7" fill="#161616" font-weight="normal" stroke="#161616" stroke-width="0.42">29</text>
<text transform="translate(783.88 182.24) scale(0.9000 1)" font-size="8.7" fill="#161616" font-weight="normal" stroke="#161616" stroke-width="0.42">31</text>
<text transform="translate(783.84 203.97) scale(0.9000 1)" font-size="8.7" fill="#161616" font-weight="normal" stroke="#161616" stroke-width="0.42">33</text>
<text transform="translate(783.82 225.70) scale(0.9000 1)" font-size="8.7" fill="#161616" font-weight="normal" stroke="#161616" stroke-width="0.42">35</text>
<text transform="translate(783.90 247.43) scale(0.9000 1)" font-size="8.7" fill="#161616" font-weight="normal" stroke="#161616" stroke-width="0.42">37</text>
<text transform="translate(783.86 269.16) scale(0.9000 1)" font-size="8.7" fill="#161616" font-weight="normal" stroke="#161616" stroke-width="0.42">39</text>
<text transform="translate(783.88 290.89) scale(0.9000 1)" font-size="8.7" fill="#161616" font-weight="normal" stroke="#161616" stroke-width="0.42">41</text>
<text transform="translate(783.84 312.62) scale(0.9000 1)" font-size="8.7" fill="#161616" font-weight="normal" stroke="#161616" stroke-width="0.42">43</text>
<text transform="translate(758.64 149.90) scale(0.9000 1)" font-size="8.7" fill="#161616" font-weight="normal" stroke="#161616" stroke-width="0.42">28</text>
<text transform="translate(758.60 171.47) scale(0.9000 1)" font-size="8.7" fill="#161616" font-weight="normal" stroke="#161616" stroke-width="0.42">30</text>
<text transform="translate(758.70 193.04) scale(0.9000 1)" font-size="8.7" fill="#161616" font-weight="normal" stroke="#161616" stroke-width="0.42">32</text>
<text transform="translate(758.52 214.61) scale(0.9000 1)" font-size="8.7" fill="#161616" font-weight="normal" stroke="#161616" stroke-width="0.42">34</text>
<text transform="translate(758.64 236.18) scale(0.9000 1)" font-size="8.7" fill="#161616" font-weight="normal" stroke="#161616" stroke-width="0.42">36</text>
<text transform="translate(758.64 257.75) scale(0.9000 1)" font-size="8.7" fill="#161616" font-weight="normal" stroke="#161616" stroke-width="0.42">38</text>
<text transform="translate(758.60 279.32) scale(0.9000 1)" font-size="8.7" fill="#161616" font-weight="normal" stroke="#161616" stroke-width="0.42">40</text>
<text transform="translate(758.70 300.89) scale(0.9000 1)" font-size="8.7" fill="#161616" font-weight="normal" stroke="#161616" stroke-width="0.42">42</text>
<line x1="577.70" y1="33.80" x2="629.40" y2="33.80" stroke="#555555" stroke-width="1.25"/>
<line x1="577.70" y1="31.00" x2="577.70" y2="66.00" stroke="#555555" stroke-width="1.25"/>
<line x1="629.40" y1="31.00" x2="629.40" y2="103.20" stroke="#555555" stroke-width="1.25"/>
<text transform="translate(592.81 29.70) scale(0.8886 1)" font-size="13.2" fill="#1a1a1a" font-weight="normal" stroke="#1a1a1a" stroke-width="0.38">2.69</text>
<line x1="577.70" y1="52.40" x2="619.00" y2="52.40" stroke="#555555" stroke-width="1.25"/>
<line x1="619.00" y1="49.00" x2="619.00" y2="63.80" stroke="#555555" stroke-width="1.25"/>
<text transform="translate(586.85 47.40) scale(0.9447 1)" font-size="11.6" fill="#1a1a1a" font-weight="normal" stroke="#1a1a1a" stroke-width="0.38">2.06</text>
<line x1="662.10" y1="52.40" x2="683.90" y2="52.40" stroke="#555555" stroke-width="1.25"/>
<line x1="662.10" y1="49.00" x2="662.10" y2="63.80" stroke="#555555" stroke-width="1.25"/>
<line x1="683.90" y1="49.00" x2="683.90" y2="63.80" stroke="#555555" stroke-width="1.25"/>
<text transform="translate(662.70 47.40) scale(0.9236 1)" font-size="11.6" fill="#1a1a1a" font-weight="normal" stroke="#1a1a1a" stroke-width="0.38">1.27</text>
<line x1="771.50" y1="52.80" x2="812.40" y2="52.80" stroke="#555555" stroke-width="1.25"/>
<line x1="771.50" y1="49.00" x2="771.50" y2="64.00" stroke="#555555" stroke-width="1.25"/>
<line x1="812.40" y1="49.00" x2="812.40" y2="64.10" stroke="#555555" stroke-width="1.25"/>
<text transform="translate(781.26 47.40) scale(0.9307 1)" font-size="11.6" fill="#1a1a1a" font-weight="normal" stroke="#1a1a1a" stroke-width="0.38">2.06</text>
<line x1="607.10" y1="68.00" x2="607.10" y2="103.60" stroke="#555555" stroke-width="1.25"/>
<line x1="604.20" y1="103.20" x2="629.40" y2="103.20" stroke="#555555" stroke-width="1.25"/>
<text transform="translate(602.60 93.76) rotate(-90) scale(0.8965 1)" font-size="12.6" fill="#1a1a1a" font-weight="normal" stroke="#1a1a1a" stroke-width="0.38">2.1</text>
<line x1="812.60" y1="66.90" x2="854.60" y2="66.90" stroke="#555555" stroke-width="1.25"/>
<line x1="825.70" y1="66.90" x2="825.70" y2="114.50" stroke="#555555" stroke-width="1.25"/>
<line x1="814.10" y1="114.50" x2="830.00" y2="114.50" stroke="#555555" stroke-width="1.25"/>
<text transform="translate(827.77 94.40) scale(0.9303 1)" font-size="11.4" fill="#1a1a1a" font-weight="normal" stroke="#1a1a1a" stroke-width="0.38">2.60</text>
<line x1="849.50" y1="66.90" x2="849.50" y2="146.50" stroke="#555555" stroke-width="1.25"/>
<line x1="775.60" y1="146.50" x2="854.60" y2="146.50" stroke="#555555" stroke-width="1.25"/>
<text transform="translate(864.60 121.75) rotate(-90) scale(0.8701 1)" font-size="13.0" fill="#1a1a1a" font-weight="normal" stroke="#1a1a1a" stroke-width="0.38">4.505</text>
<line x1="813.80" y1="156.60" x2="829.70" y2="156.60" stroke="#555555" stroke-width="1.25"/>
<line x1="813.80" y1="178.70" x2="829.70" y2="178.70" stroke="#555555" stroke-width="1.25"/>
<line x1="826.30" y1="156.60" x2="826.30" y2="178.70" stroke="#555555" stroke-width="1.25"/>
<text transform="translate(829.13 171.00) scale(0.9125 1)" font-size="11.2" fill="#1a1a1a" font-weight="normal" stroke="#1a1a1a" stroke-width="0.38">1.27</text>
<line x1="783.60" y1="204.70" x2="831.50" y2="204.70" stroke="#555555" stroke-width="1.25"/>
<line x1="783.60" y1="226.40" x2="831.50" y2="226.40" stroke="#555555" stroke-width="1.25"/>
<line x1="827.00" y1="204.70" x2="827.00" y2="226.40" stroke="#555555" stroke-width="1.25"/>
<text transform="translate(832.95 218.90) scale(0.8978 1)" font-size="11.2" fill="#1a1a1a" font-weight="normal" stroke="#1a1a1a" stroke-width="0.38">1.27</text>
<line x1="775.60" y1="297.30" x2="854.50" y2="297.30" stroke="#555555" stroke-width="1.25"/>
<line x1="851.50" y1="297.30" x2="851.50" y2="393.50" stroke="#555555" stroke-width="1.25"/>
<line x1="812.00" y1="393.50" x2="854.90" y2="393.50" stroke="#555555" stroke-width="1.25"/>
<text transform="translate(865.20 357.56) rotate(-90) scale(0.8796 1)" font-size="13.0" fill="#1a1a1a" font-weight="normal" stroke="#1a1a1a" stroke-width="0.38">4.605</text>
<line x1="814.40" y1="309.20" x2="829.70" y2="309.20" stroke="#555555" stroke-width="1.25"/>
<line x1="825.50" y1="309.20" x2="825.50" y2="393.50" stroke="#555555" stroke-width="1.25"/>
<text transform="translate(828.81 356.40) scale(0.9277 1)" font-size="11.2" fill="#1a1a1a" font-weight="normal" stroke="#1a1a1a" stroke-width="0.38">3.97</text>
<line x1="775.40" y1="297.30" x2="775.40" y2="329.00" stroke="#555555" stroke-width="1.25"/>
<line x1="775.40" y1="323.90" x2="811.00" y2="323.90" stroke="#555555" stroke-width="1.25"/>
<text transform="translate(786.94 336.20) scale(0.9604 1)" font-size="11.6" fill="#1a1a1a" font-weight="normal" stroke="#1a1a1a" stroke-width="0.38">2.1</text>
<path d="M173.15,66.85 H207.30 A5.5 5.4 0 0 0 218.30,66.85 H229.03 A5.5 5.4 0 0 0 240.03,66.85 H250.76 A5.5 5.4 0 0 0 261.76,66.85 H272.49 A5.5 5.4 0 0 0 283.49,66.85 H294.22 A5.5 5.4 0 0 0 305.22,66.85 H315.95 A5.5 5.4 0 0 0 326.95,66.85 H337.68 A5.5 5.4 0 0 0 348.68,66.85 H359.41 A5.5 5.4 0 0 0 370.41,66.85 H406.00 V107.85 A5.7 5.5 0 0 0 406.00,118.85 V129.58 A5.7 5.5 0 0 0 406.00,140.58 V151.31 A5.7 5.5 0 0 0 406.00,162.31 V173.04 A5.7 5.5 0 0 0 406.00,184.04 V194.77 A5.7 5.5 0 0 0 406.00,205.77 V216.50 A5.7 5.5 0 0 0 406.00,227.50 V238.23 A5.7 5.5 0 0 0 406.00,249.23 V259.96 A5.7 5.5 0 0 0 406.00,270.96 V281.69 A5.7 5.5 0 0 0 406.00,292.69 V303.42 A5.7 5.5 0 0 0 406.00,314.42 V392.70 H173.15 V314.42 A5.7 5.5 0 0 0 173.15,303.42 V292.69 A5.7 5.5 0 0 0 173.15,281.69 V270.96 A5.7 5.5 0 0 0 173.15,259.96 V249.23 A5.7 5.5 0 0 0 173.15,238.23 V227.50 A5.7 5.5 0 0 0 173.15,216.50 V205.77 A5.7 5.5 0 0 0 173.15,194.77 V184.04 A5.7 5.5 0 0 0 173.15,173.04 V162.31 A5.7 5.5 0 0 0 173.15,151.31 V140.58 A5.7 5.5 0 0 0 173.15,129.58 V118.85 A5.7 5.5 0 0 0 173.15,107.85 Z" fill="none" stroke="#060606" stroke-width="2.15" stroke-linejoin="miter"/>
<path d="M578.70,66.90 H613.25 A5.5 5.4 0 0 0 624.25,66.90 H634.98 A5.5 5.4 0 0 0 645.98,66.90 H656.71 A5.5 5.4 0 0 0 667.71,66.90 H678.44 A5.5 5.4 0 0 0 689.44,66.90 H700.17 A5.5 5.4 0 0 0 711.17,66.90 H721.90 A5.5 5.4 0 0 0 732.90,66.90 H743.63 A5.5 5.4 0 0 0 754.63,66.90 H765.36 A5.5 5.4 0 0 0 776.36,66.90 H811.70 V107.85 A5.7 5.5 0 0 0 811.70,118.85 V129.58 A5.7 5.5 0 0 0 811.70,140.58 V151.31 A5.7 5.5 0 0 0 811.70,162.31 V173.04 A5.7 5.5 0 0 0 811.70,184.04 V194.77 A5.7 5.5 0 0 0 811.70,205.77 V216.50 A5.7 5.5 0 0 0 811.70,227.50 V238.23 A5.7 5.5 0 0 0 811.70,249.23 V259.96 A5.7 5.5 0 0 0 811.70,270.96 V281.69 A5.7 5.5 0 0 0 811.70,292.69 V303.42 A5.7 5.5 0 0 0 811.70,314.42 V392.90 H578.70 V314.42 A5.7 5.5 0 0 0 578.70,303.42 V292.69 A5.7 5.5 0 0 0 578.70,281.69 V270.96 A5.7 5.5 0 0 0 578.70,259.96 V249.23 A5.7 5.5 0 0 0 578.70,238.23 V227.50 A5.7 5.5 0 0 0 578.70,216.50 V205.77 A5.7 5.5 0 0 0 578.70,194.77 V184.04 A5.7 5.5 0 0 0 578.70,173.04 V162.31 A5.7 5.5 0 0 0 578.70,151.31 V140.58 A5.7 5.5 0 0 0 578.70,129.58 V118.85 A5.7 5.5 0 0 0 578.70,107.85 Z" fill="none" stroke="#060606" stroke-width="2.15" stroke-linejoin="miter"/>
<text transform="translate(173.18 427.60) scale(0.9532 1)" font-size="10.4" fill="#2a2a2a" font-weight="bold">Top pad :</text>
<text transform="translate(258.67 427.20) scale(0.9313 1)" font-size="11.5" fill="#1a1a1a" font-weight="normal" stroke="#1a1a1a" stroke-width="0.38">0.50</text>
<line x1="264.40" y1="433.60" x2="274.70" y2="433.60" stroke="#555555" stroke-width="1.25"/>
<line x1="264.40" y1="430.00" x2="264.40" y2="444.90" stroke="#555555" stroke-width="1.25"/>
<line x1="274.70" y1="430.00" x2="274.70" y2="444.90" stroke="#555555" stroke-width="1.25"/>
<path d="M265.10,447.80 H273.60 V461.90 H265.10 V459.95 A5.6 5.1 0 0 0 265.10,449.75 Z" fill="#fff" stroke="#060606" stroke-width="1.8" stroke-linejoin="round"/>
<line x1="249.50" y1="451.10" x2="249.50" y2="459.70" stroke="#555555" stroke-width="1.25"/>
<line x1="245.20" y1="451.10" x2="261.00" y2="451.10" stroke="#555555" stroke-width="1.25"/>
<line x1="245.20" y1="459.70" x2="261.00" y2="459.70" stroke="#555555" stroke-width="1.25"/>
<text transform="translate(223.38 460.30) scale(0.9232 1)" font-size="11.5" fill="#1a1a1a" font-weight="normal" stroke="#1a1a1a" stroke-width="0.38">0.65</text>
<line x1="288.30" y1="447.70" x2="288.30" y2="462.90" stroke="#555555" stroke-width="1.25"/>
<line x1="276.50" y1="447.70" x2="291.70" y2="447.70" stroke="#555555" stroke-width="1.25"/>
<line x1="276.50" y1="462.90" x2="291.70" y2="462.90" stroke="#555555" stroke-width="1.25"/>
<text transform="translate(292.47 459.60) scale(0.9359 1)" font-size="11.5" fill="#1a1a1a" font-weight="normal" stroke="#1a1a1a" stroke-width="0.38">0.80</text>
<text transform="translate(575.30 427.60) scale(0.9932 1)" font-size="10.4" fill="#2a2a2a" font-weight="bold">Bottom pad :</text>
<text transform="translate(684.13 427.10) scale(0.8921 1)" font-size="11.5" fill="#1a1a1a" font-weight="normal" stroke="#1a1a1a" stroke-width="0.38">1.00</text>
<line x1="684.30" y1="433.50" x2="701.70" y2="433.50" stroke="#555555" stroke-width="1.25"/>
<line x1="684.30" y1="430.10" x2="684.30" y2="444.80" stroke="#555555" stroke-width="1.25"/>
<line x1="701.70" y1="430.10" x2="701.70" y2="444.80" stroke="#555555" stroke-width="1.25"/>
<path d="M684.80,447.90 H701.10 V461.90 H684.80 V460.00 A5.6 5.1 0 0 0 684.80,449.80 Z" fill="#fff" stroke="#060606" stroke-width="1.8" stroke-linejoin="round"/>
<path d="M699.20,449.80 H689.94 A7.50 7.00 0 0 1 689.94,460.00 H699.20 Z" fill="#c4c4c4"/>
<line x1="669.50" y1="451.10" x2="669.50" y2="459.70" stroke="#555555" stroke-width="1.25"/>
<line x1="665.20" y1="451.10" x2="680.70" y2="451.10" stroke="#555555" stroke-width="1.25"/>
<line x1="665.20" y1="459.70" x2="680.70" y2="459.70" stroke="#555555" stroke-width="1.25"/>
<text transform="translate(643.38 460.30) scale(0.9232 1)" font-size="11.5" fill="#1a1a1a" font-weight="normal" stroke="#1a1a1a" stroke-width="0.38">0.65</text>
<line x1="715.10" y1="447.10" x2="715.10" y2="462.70" stroke="#555555" stroke-width="1.25"/>
<line x1="704.00" y1="447.10" x2="719.00" y2="447.10" stroke="#555555" stroke-width="1.25"/>
<line x1="704.00" y1="462.70" x2="719.00" y2="462.70" stroke="#555555" stroke-width="1.25"/>
<text transform="translate(720.17 459.30) scale(0.9359 1)" font-size="11.5" fill="#1a1a1a" font-weight="normal" stroke="#1a1a1a" stroke-width="0.38">0.80</text>
<text transform="translate(682.97 483.30) scale(0.9452 1)" font-size="11.5" fill="#1a1a1a" font-weight="normal" stroke="#1a1a1a" stroke-width="0.38">0.80</text>
<line x1="687.50" y1="489.80" x2="700.40" y2="489.80" stroke="#555555" stroke-width="1.25"/>
<line x1="687.50" y1="486.30" x2="687.50" y2="501.40" stroke="#555555" stroke-width="1.25"/>
<line x1="700.40" y1="486.30" x2="700.40" y2="501.40" stroke="#555555" stroke-width="1.25"/>
<rect x="688.20" y="504.30" width="11.50" height="11.00" fill="#fff" stroke="#060606" stroke-width="1.8" stroke-linejoin="round" rx="0.6"/>
<rect x="690.25" y="506.35" width="7.40" height="6.90" fill="#c4c4c4"/>
<line x1="713.50" y1="504.10" x2="713.50" y2="516.00" stroke="#555555" stroke-width="1.25"/>
<line x1="702.20" y1="504.10" x2="717.00" y2="504.10" stroke="#555555" stroke-width="1.25"/>
<line x1="702.20" y1="516.00" x2="717.00" y2="516.00" stroke="#555555" stroke-width="1.25"/>
<text transform="translate(718.17 513.90) scale(0.9406 1)" font-size="11.5" fill="#1a1a1a" font-weight="normal" stroke="#1a1a1a" stroke-width="0.38">0.80</text>
<text transform="translate(766.11 544.20) scale(0.9862 1)" font-size="10.4" fill="#2a2a2a" font-weight="bold">Pad quantity : 43</text>
<text transform="translate(766.16 557.60) scale(1.0193 1)" font-size="10.4" fill="#2a2a2a" font-weight="bold">Unit:</text>
<text transform="translate(797.68 557.60) scale(1.0590 1)" font-size="10.4" fill="#2a2a2a" font-weight="bold">mm</text>
</g>
</svg>
</body></html>
